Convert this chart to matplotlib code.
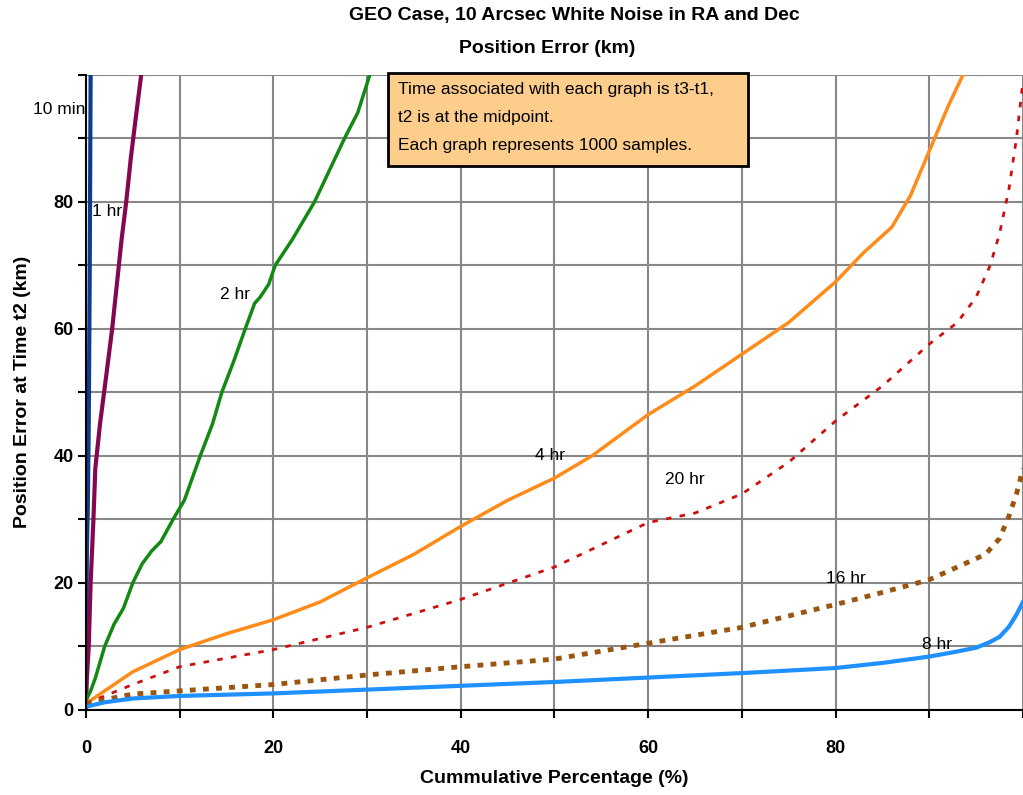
import matplotlib
matplotlib.use("Agg")
import matplotlib.pyplot as plt
from matplotlib.patches import Rectangle

plt.rcParams['font.family'] = ['Liberation Sans', 'DejaVu Sans']

# cumulative percentage (%) vs position error (km), one curve per arc length
pct_10min = [0, 0.05, 0.1, 0.2, 0.3, 0.4, 0.5]
err_10min = [0, 10, 25, 32, 45, 68, 100]

pct_1hr = [0, 0.1, 0.3, 0.5, 0.8, 1.0, 1.5, 2.2, 2.8, 3.3, 3.8, 4.3, 4.8, 5.3, 5.9]
err_1hr = [1, 5, 10, 20, 30, 38, 45, 53, 60, 67, 74, 80, 87, 93, 100]

pct_2hr = [0, 0.5, 1, 2, 3, 4, 5, 6, 7, 8, 9.3, 10.5, 12.2, 13.5, 14.5, 15.8,
           17, 18, 18.6, 19.5, 20.2, 22, 24.4, 26, 27.6, 29, 30.3]
err_2hr = [1.5, 3, 5, 10, 13.5, 16, 20, 23, 25, 26.5, 30, 33, 40, 45, 50, 55,
           60, 64, 65, 67, 70, 74, 80, 85, 90, 94, 100]

pct_4hr = [0, 2, 5, 10, 15, 20, 25, 30, 35, 40, 45, 50, 54, 60, 65, 70, 75,
           80, 83, 86, 88, 90, 92, 93.6]
err_4hr = [1, 3, 6, 9.5, 12, 14.2, 17, 20.8, 24.5, 28.9, 33, 36.5, 40, 46.5,
           51, 56, 61, 67.4, 72, 76, 81, 88, 95, 100]

pct_20hr = [0, 5, 10, 20, 30, 40, 50, 60, 65, 70, 75, 80, 85, 90, 93, 95,
            96.5, 97.5, 98.5, 99.3, 100]
err_20hr = [1, 4, 6.8, 9.5, 13, 17.4, 22.5, 29.5, 31, 34, 39, 45.5, 51, 57.6,
            61, 65, 70, 75, 82, 90, 99]

pct_16hr = [0, 5, 10, 20, 30, 40, 50, 60, 70, 80, 85, 90, 93, 96, 97.5,
            98.5, 99.3, 100]
err_16hr = [1, 2.5, 3, 4, 5.5, 6.8, 8, 10.5, 13, 16.6, 18.5, 20.5, 22.5, 24.5,
            27, 30.5, 34, 38]

pct_8hr = [0, 2, 5, 10, 20, 30, 40, 50, 60, 70, 80, 85, 90, 93, 95, 96.5,
           97.5, 98.5, 99.3, 100]
err_8hr = [0.5, 1.2, 1.8, 2.2, 2.6, 3.2, 3.8, 4.4, 5.1, 5.8, 6.6, 7.4, 8.4,
           9.2, 9.8, 10.7, 11.5, 13.1, 15, 17]

tick_labels = ['0', '', '20', '', '40', '', '60', '', '80', '', '']

fig = plt.figure(figsize=(10.23, 7.95), dpi=100)
ax = fig.add_axes([0.084, 0.107, 0.916, 0.799])

ax.plot(pct_10min, err_10min, color='#0b3c8f', lw=3)
ax.plot(pct_1hr, err_1hr, color='#84084f', lw=3)
ax.plot(pct_2hr, err_2hr, color='#128a12', lw=2.5)
ax.plot(pct_4hr, err_4hr, color='#ff8c1a', lw=2.5)
ax.plot(pct_20hr, err_20hr, color='#cc1111', lw=2, ls=(0, (2, 3)))
ax.plot(pct_16hr, err_16hr, color='#9a560f', lw=3.5, ls=(0, (1.2, 1.5)))
ax.plot(pct_8hr, err_8hr, color='#1e90ff', lw=3)

# curve labels
lbl = dict(fontsize=12.5, color='black', clip_on=False, va='center')
ax.text(-5.6, 94.5, '10 min', **lbl)
ax.text(0.6, 78.5, '1 hr', **lbl)
ax.text(14.3, 65.4, '2 hr', **lbl)
ax.text(47.9, 40.1, '4 hr', **lbl)
ax.text(61.8, 36.2, '20 hr', **lbl)
ax.text(79.0, 20.7, '16 hr', **lbl)
ax.text(89.2, 10.3, '8 hr', **lbl)

# note box
ax.add_patch(Rectangle((0.322, 0.857), 0.3845, 0.146, transform=ax.transAxes,
                       facecolor='#fdcd8b', edgecolor='black', lw=2,
                       clip_on=False, zorder=5))
notes = ['Time associated with each graph is t3-t1,',
         't2 is at the midpoint.',
         'Each graph represents 1000 samples.']
for i, s in enumerate(notes):
    ax.text(0.333, 0.976 - i * 0.044, s, transform=ax.transAxes, fontsize=12.5,
            va='center', zorder=6)

ax.set_xlim(0, 100)
ax.set_ylim(0, 100)
ax.set_xticks(range(0, 101, 10))
ax.set_yticks(range(0, 101, 10))
ax.set_xticklabels(tick_labels)
ax.set_yticklabels(tick_labels)
ax.grid(True, color='#888888', lw=1.5)
ax.set_axisbelow(True)
ax.tick_params(direction='out', length=6, width=1.5, labelsize=13)
ax.tick_params(axis='x', pad=16)
ax.tick_params(axis='y', pad=3)
for t in ax.get_xticklabels() + ax.get_yticklabels():
    t.set_fontweight('bold')
ax.spines['top'].set_visible(False)
ax.spines['right'].set_visible(False)
ax.spines['left'].set_linewidth(1.5)
ax.spines['bottom'].set_linewidth(1.5)

ax.set_xlabel('Cummulative Percentage (%)', fontsize=14, fontweight='bold',
              labelpad=9)
ax.set_ylabel('Position Error at Time t2 (km)', fontsize=14, fontweight='bold',
              labelpad=16)

fig.text(0.561, 0.981, 'GEO Case, 10 Arcsec White Noise in RA and Dec',
         ha='center', va='center', fontsize=14, fontweight='bold')
fig.text(0.535, 0.939, 'Position Error (km)', ha='center', va='center',
         fontsize=14, fontweight='bold')

fig.savefig('out.png', dpi=100)
